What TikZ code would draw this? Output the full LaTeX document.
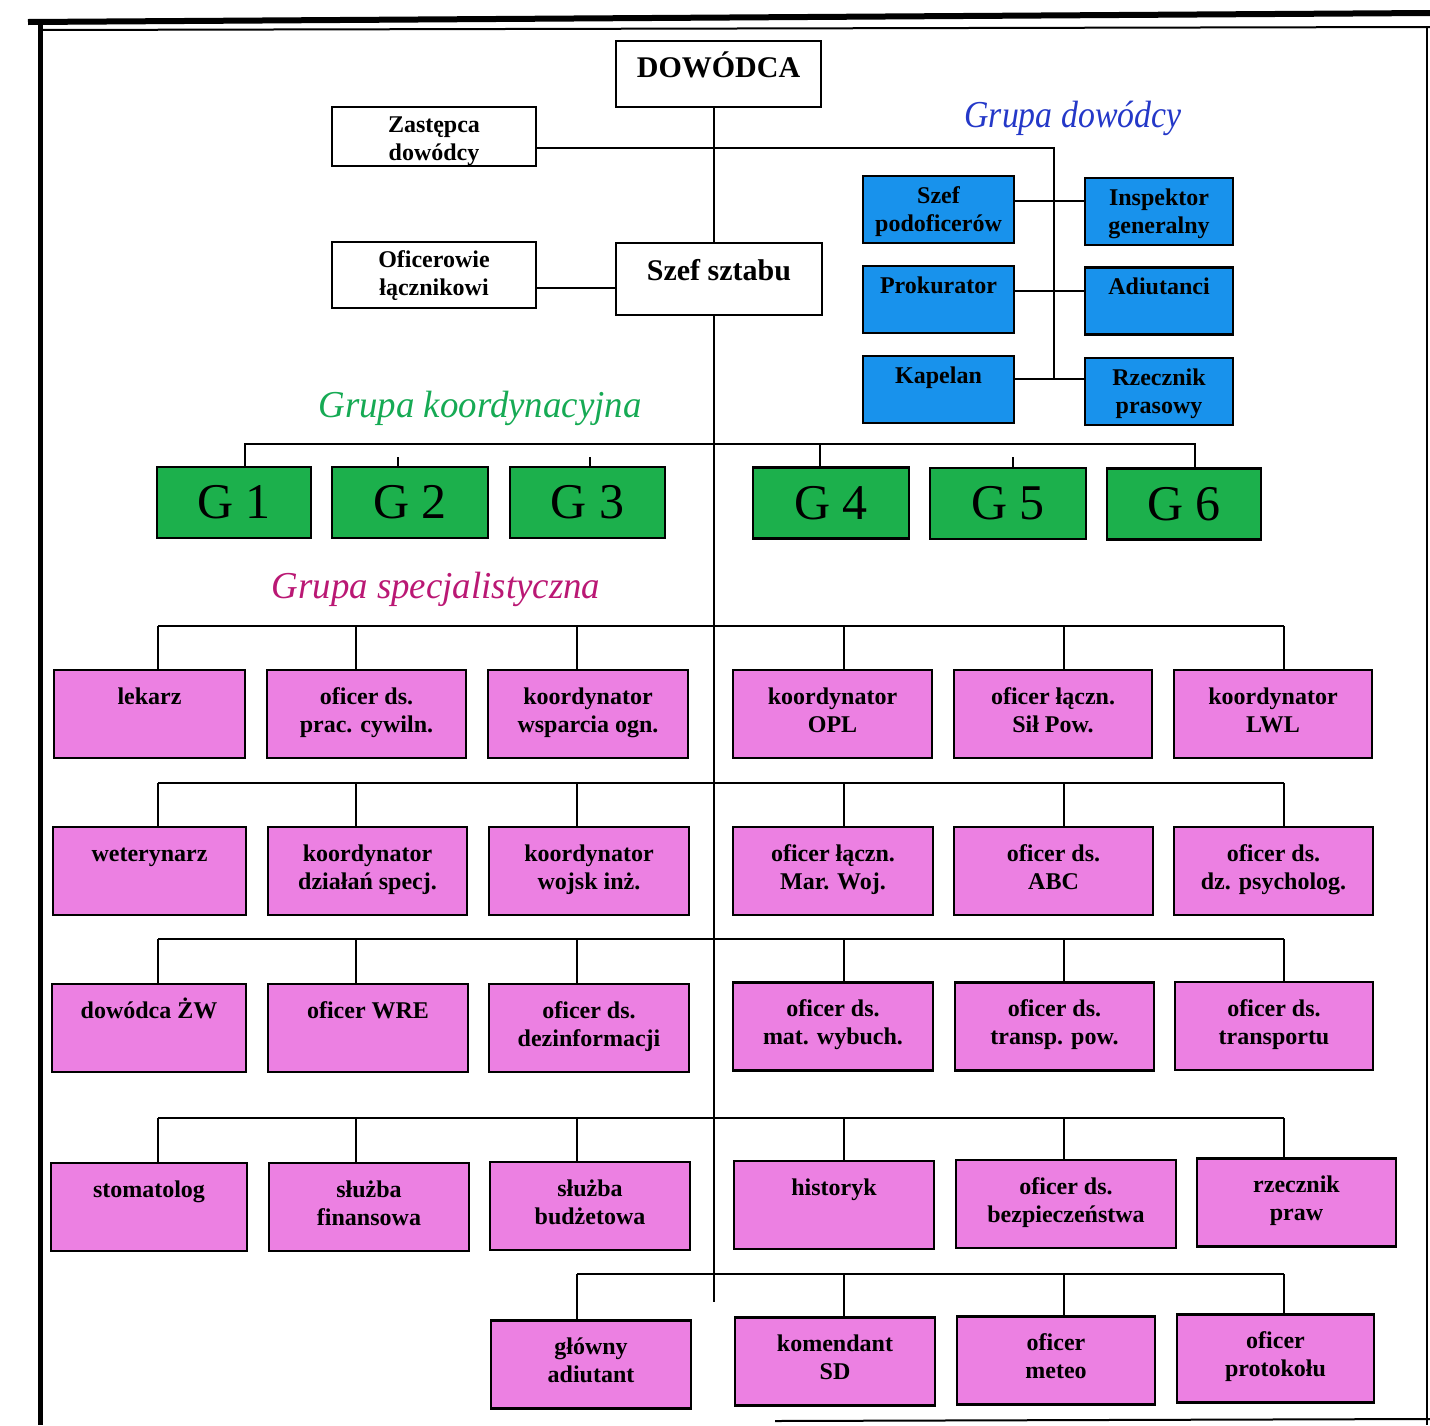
\documentclass[tikz,border=0pt]{standalone}
\usepackage{fontspec}
\setmainfont{Liberation Serif}

\definecolor{pinkbox}{RGB}{236,128,226}
\definecolor{greenbox}{RGB}{28,176,76}
\definecolor{bluebox}{RGB}{24,146,236}
\definecolor{bluetitle}{RGB}{36,56,200}
\definecolor{greentitle}{RGB}{22,170,84}
\definecolor{pinktitle}{RGB}{186,24,116}

% text hung from the top of a box
\newcommand{\toptext}[1]{\parbox[c][88pt][t]{186pt}{\centering\rule{0pt}{34pt}#1}}
\newcommand{\bluetext}[1]{\parbox[c][67pt][t]{146pt}{\centering\rule{0pt}{27pt}#1}}

\begin{document}
\begin{tikzpicture}[x=1pt,y=-1pt]
    \tikzset{
      conn/.style={line width=2.2pt},
      whitebox/.style={draw, line width=2.6pt, fill=white, inner sep=0pt, font=\fontsize{24}{28}\selectfont\bfseries},
      cmdbox/.style={draw, line width=2.6pt, fill=bluebox, inner sep=0pt, minimum height=67pt, font=\fontsize{24}{28}\selectfont\bfseries},
      gbox/.style={draw, line width=2.6pt, fill=greenbox, inner sep=0pt, minimum height=71pt, font=\fontsize{50}{50}\selectfont},
      specbox/.style={draw, line width=2.6pt, fill=pinkbox, inner sep=0pt, minimum width=199pt, minimum height=88pt, font=\fontsize{24}{28}\selectfont\bfseries},
      grouptitle/.style={anchor=base, inner sep=0pt, font=\fontsize{38}{38}\selectfont\itshape}
    }
    \useasboundingbox (0,0) rectangle (1430,1425);
    % page frame of the scan
    \draw [line width=6pt] (28,22) -- (1430,13);
    \draw [line width=2pt] (40,30) -- (1430,27);
    \draw [line width=5pt] (40,25) -- (40,1425);
    \draw [line width=1.5pt] (1427,27) -- (1427,1425);
    \draw [line width=2pt] (775,1421) -- (1430,1419);

    % command level
    \node [whitebox, minimum width=205pt, minimum height=66pt, font=\fontsize{30}{34}\selectfont\bfseries] (dow) at (718.5,74)
      {\parbox[c][66pt][t]{200pt}{\centering\rule{0pt}{36pt}DOWÓDCA}};
    \node [whitebox, minimum width=204pt, minimum height=59pt] (zast) at (434,136.5)
      {\parbox[c][59pt][t]{198pt}{\centering\rule{0pt}{25pt}Zastępca\\dowódcy}};
    \node [whitebox, minimum width=204pt, minimum height=66pt] (ofic) at (434,275)
      {\parbox[c][66pt][t]{198pt}{\centering\rule{0pt}{25pt}Oficerowie\\łącznikowi}};
    \node [whitebox, minimum width=206pt, minimum height=72pt, font=\fontsize{30}{34}\selectfont\bfseries] (szef) at (719,279)
      {\parbox[c][72pt][t]{200pt}{\centering\rule{0pt}{37pt}Szef sztabu}};

    % Grupa dowodcy
    \node [grouptitle, text=bluetitle] (tdow) at (1073,127) {\scalebox{0.89}[1]{Grupa dowódcy}};
    \node [cmdbox, minimum width=151pt] (spod) at (938.5,209.5) {\bluetext{Szef\\podoficerów}};
    \node [cmdbox, minimum width=148pt] (insp) at (1159,211.5) {\bluetext{Inspektor\\generalny}};
    \node [cmdbox, minimum width=151pt] (prok) at (938.5,299.5) {\bluetext{Prokurator}};
    \node [cmdbox, minimum width=148pt] (adiu) at (1159,301) {\bluetext{Adiutanci}};
    \node [cmdbox, minimum width=151pt] (kap) at (938.5,389.5) {\bluetext{Kapelan}};
    \node [cmdbox, minimum width=148pt] (rzec) at (1159,391.5) {\bluetext{Rzecznik\\prasowy}};

    % Grupa koordynacyjna
    \node [grouptitle, text=greentitle] (tkoo) at (480,417) {\scalebox{0.97}[1]{Grupa koordynacyjna}};
    \node [gbox, minimum width=154pt] (g1) at (234,502.5) {G 1};
    \node [gbox, minimum width=156pt] (g2) at (410,502.5) {G 2};
    \node [gbox, minimum width=155pt] (g3) at (587.5,502.5) {G 3};
    \node [gbox, minimum width=156pt] (g4) at (831,503) {G 4};
    \node [gbox, minimum width=156pt] (g5) at (1008,503.5) {G 5};
    \node [gbox, minimum width=154pt] (g6) at (1184,504) {G 6};

    % Grupa specjalistyczna
    \node [grouptitle, text=pinktitle] (tspe) at (436,598) {\scalebox{0.97}[1]{Grupa specjalistyczna}};
    \node [specbox, minimum width=191pt] (lek) at (149.5,714) {\toptext{lekarz}};
    \node [specbox] (prac) at (366.5,714) {\toptext{oficer ds.\\prac. cywiln.}};
    \node [specbox, minimum width=200pt] (wsp) at (588,714) {\toptext{koordynator\\wsparcia ogn.}};
    \node [specbox] (opl) at (832.5,714) {\toptext{koordynator\\OPL}};
    \node [specbox, minimum width=198pt] (silp) at (1053,714) {\toptext{oficer łączn.\\Sił Pow.}};
    \node [specbox, minimum width=198pt] (lwl) at (1273,714) {\toptext{koordynator\\LWL}};

    \node [specbox, minimum width=193pt] (wet) at (149.5,871) {\toptext{weterynarz}};
    \node [specbox] (dzs) at (367.5,871) {\toptext{koordynator\\działań specj.}};
    \node [specbox, minimum width=200pt] (inz) at (589,871) {\toptext{koordynator\\wojsk inż.}};
    \node [specbox, minimum width=200pt] (mar) at (833,871) {\toptext{oficer łączn.\\Mar. Woj.}};
    \node [specbox] (abc) at (1053.5,871) {\toptext{oficer ds.\\ABC}};
    \node [specbox] (psy) at (1273.5,871) {\toptext{oficer ds.\\dz. psycholog.}};

    \node [specbox, minimum width=194pt] (zw) at (149,1028) {\toptext{dowódca ŻW}};
    \node [specbox, minimum width=200pt] (wre) at (368,1028) {\toptext{oficer WRE}};
    \node [specbox, minimum width=200pt] (dez) at (589,1028) {\toptext{oficer ds.\\dezinformacji}};
    \node [specbox, minimum width=200pt] (mat) at (833,1026.5) {\toptext{oficer ds.\\mat. wybuch.}};
    \node [specbox] (trp) at (1054.5,1026.5) {\toptext{oficer ds.\\transp. pow.}};
    \node [specbox, minimum width=198pt] (trn) at (1274,1026) {\toptext{oficer ds.\\transportu}};

    \node [specbox, minimum width=196pt] (sto) at (149,1207) {\toptext{stomatolog}};
    \node [specbox, minimum width=200pt] (fin) at (369,1207) {\toptext{służba\\finansowa}};
    \node [specbox, minimum width=200pt] (bud) at (590,1206) {\toptext{służba\\budżetowa}};
    \node [specbox, minimum width=200pt] (his) at (834,1205) {\toptext{historyk}};
    \node [specbox, minimum width=220pt] (bez) at (1066,1204) {\toptext{oficer ds.\\bezpieczeństwa}};
    \node [specbox] (rpr) at (1296.5,1202.5) {\toptext{rzecznik\\praw}};

    \node [specbox, minimum width=200pt] (adj) at (591,1364.5) {\toptext{główny\\adiutant}};
    \node [specbox, minimum width=200pt] (kom) at (835,1361.5) {\toptext{komendant\\SD}};
    \node [specbox, minimum width=198pt] (met) at (1056,1360.5) {\toptext{oficer\\meteo}};
    \node [specbox, minimum width=197pt] (pro) at (1275.5,1358.5) {\toptext{oficer\\protokołu}};

    % line positions
    \coordinate (spine) at (714,0);
    \coordinate (tail) at (0,1302);
    \coordinate (cmd) at (1054,148);
    \coordinate (h0) at (0,288);
    \coordinate (h1) at (0,201);
    \coordinate (h2) at (0,291);
    \coordinate (h3) at (0,379);
    \coordinate (gb) at (0,444);
    \coordinate (gt) at (0,457);
    \coordinate (b1) at (0,626);
    \coordinate (b2) at (0,783);
    \coordinate (b3) at (0,939);
    \coordinate (b4) at (0,1118);
    \coordinate (b5) at (0,1274);
    \coordinate (c1) at (158,0);
    \coordinate (c2) at (356,0);
    \coordinate (c3) at (577,0);
    \coordinate (c4) at (844,0);
    \coordinate (c5) at (1064,0);
    \coordinate (c6) at (1284,0);

    % spine and command links
    \draw [conn] (dow.south -| spine) -- (szef.north -| spine);
    \draw [conn] (szef.south -| spine) -- (spine |- tail);
    \draw [conn] (zast.east |- cmd) -- (cmd) -- (cmd |- h3);
    \draw [conn] (ofic.east |- h0) -- (szef.west |- h0);
    \draw [conn] (spod.east |- h1) -- (insp.west |- h1);
    \draw [conn] (prok.east |- h2) -- (adiu.west |- h2);
    \draw [conn] (kap.east |- h3) -- (rzec.west |- h3);

    % G links
    \draw [conn] (g1.north -| 245,0) -- (gb -| 245,0) -- (gb -| 1195,0) -- (g6.north -| 1195,0);
    \draw [conn] (gb -| 820,0) -- (g4.north -| 820,0);
    \draw [conn] (gt -| 398,0) -- (g2.north -| 398,0);
    \draw [conn] (gt -| 590,0) -- (g3.north -| 590,0);
    \draw [conn] (gt -| 1013,0) -- (g5.north -| 1013,0);

    % specialist buses
    \draw [conn] (b1 -| c1) -- (b1 -| c6);
    \foreach \n/\c in {lek/c1, prac/c2, wsp/c3, opl/c4, silp/c5, lwl/c6}
      \draw [conn] (b1 -| \c) -- (\n.north -| \c);
    \draw [conn] (b2 -| c1) -- (b2 -| c6);
    \foreach \n/\c in {wet/c1, dzs/c2, inz/c3, mar/c4, abc/c5, psy/c6}
      \draw [conn] (b2 -| \c) -- (\n.north -| \c);
    \draw [conn] (b3 -| c1) -- (b3 -| c6);
    \foreach \n/\c in {zw/c1, wre/c2, dez/c3, mat/c4, trp/c5, trn/c6}
      \draw [conn] (b3 -| \c) -- (\n.north -| \c);
    \draw [conn] (b4 -| c1) -- (b4 -| c6);
    \foreach \n/\c in {sto/c1, fin/c2, bud/c3, his/c4, bez/c5, rpr/c6}
      \draw [conn] (b4 -| \c) -- (\n.north -| \c);
    \draw [conn] (b5 -| c3) -- (b5 -| c6);
    \foreach \n/\c in {adj/c3, kom/c4, met/c5, pro/c6}
      \draw [conn] (b5 -| \c) -- (\n.north -| \c);
\end{tikzpicture}
\end{document}
